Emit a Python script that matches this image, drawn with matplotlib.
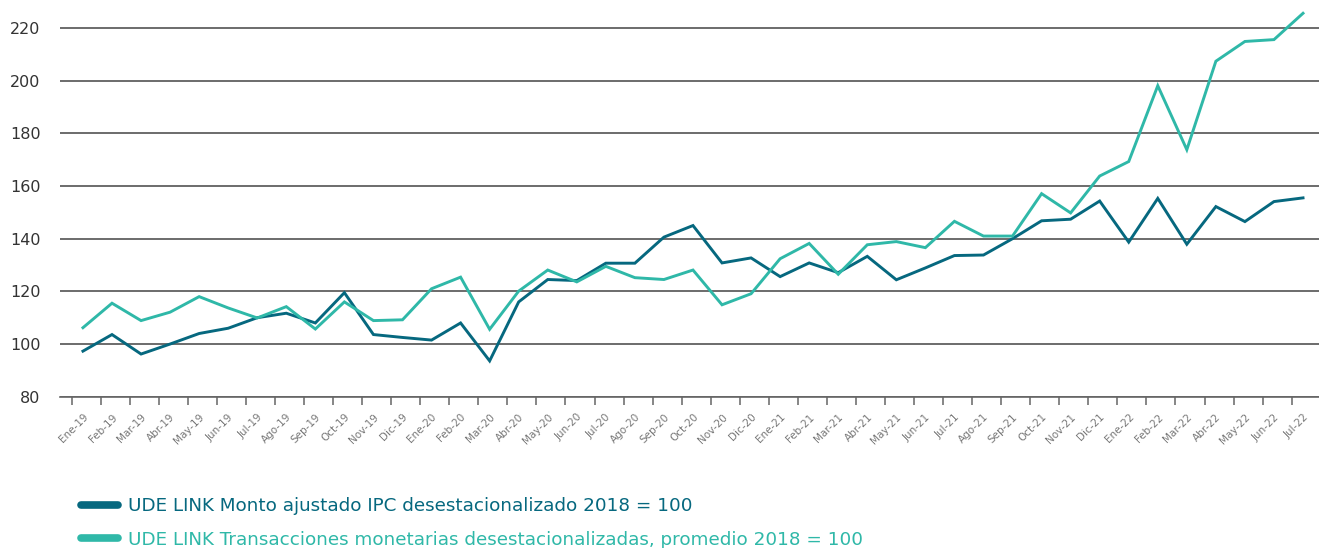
import matplotlib
matplotlib.use("Agg")
import matplotlib.pyplot as plt
from matplotlib.lines import Line2D
import numpy as np

months = ["Ene-19", "Feb-19", "Mar-19", "Abr-19", "May-19", "Jun-19", "Jul-19", "Ago-19", "Sep-19",
          "Oct-19", "Nov-19", "Dic-19", "Ene-20", "Feb-20", "Mar-20", "Abr-20", "May-20", "Jun-20",
          "Jul-20", "Ago-20", "Sep-20", "Oct-20", "Nov-20", "Dic-20", "Ene-21", "Feb-21", "Mar-21",
          "Abr-21", "May-21", "Jun-21", "Jul-21", "Ago-21", "Sep-21", "Oct-21", "Nov-21", "Dic-21",
          "Ene-22", "Feb-22", "Mar-22", "Abr-22", "May-22", "Jun-22", "Jul-22"]

monto = [97.3, 103.6, 96.2, 100.0, 104.0, 106.0, 110.0, 111.7, 108.0,
         119.5, 103.6, 102.5, 101.5, 108.0, 93.6, 116.0, 124.5, 124.1,
         130.7, 130.7, 140.6, 145.0, 130.8, 132.7, 125.6, 130.8, 127.1,
         133.3, 124.4, 128.9, 133.6, 133.8, 140.0, 146.8, 147.4, 154.3,
         138.7, 155.3, 137.9, 152.2, 146.5, 154.1, 155.5]

transacciones = [106.2, 115.5, 108.9, 112.1, 118.0, 113.7, 109.9, 114.2, 105.7,
                 116.0, 108.9, 109.2, 121.0, 125.4, 105.6, 120.1, 128.1, 123.6,
                 129.5, 125.2, 124.5, 128.1, 114.9, 119.1, 132.4, 138.2, 126.5,
                 137.7, 138.9, 136.6, 146.6, 141.0, 141.0, 157.1, 149.8, 163.8,
                 169.3, 198.1, 173.8, 207.4, 214.9, 215.6, 225.6]

yticks = [80, 100, 120, 140, 160, 180, 200, 220]

label_monto = "UDE LINK Monto ajustado IPC desestacionalizado 2018 = 100"
label_trans = "UDE LINK Transacciones monetarias desestacionalizadas, promedio 2018 = 100"

c_dark = "#06687F"
c_teal = "#2FB8A8"

fig = plt.figure(figsize=(13.19, 5.48), dpi=100)
ax = fig.add_axes([60 / 1319, 1 - 396.7 / 548, 1 - 60 / 1319, (396.7 - 9.6) / 548])

x = np.arange(len(months))
ax.plot(x, monto, color=c_dark, lw=2.1, solid_joinstyle="miter", zorder=3)
ax.plot(x, transacciones, color=c_teal, lw=2.1, solid_joinstyle="miter", zorder=3)

ax.set_ylim(80, 227)
ax.set_xlim(-0.79, len(months) - 1 + 0.55)
ax.set_yticks(yticks)
ax.yaxis.grid(True, color="#444444", lw=1.1)
ax.set_axisbelow(True)
for s in ["top", "right", "left"]:
    ax.spines[s].set_visible(False)
ax.spines["bottom"].set_color("#666666")
ax.spines["bottom"].set_linewidth(1.2)

ax.tick_params(axis="y", length=0, pad=14, labelsize=11.5, labelcolor="#333333")
ax.set_xticks(x)
ax.set_xticklabels(months, rotation=45, ha="right", va="top", rotation_mode="anchor",
                   fontsize=7.5, color="#777777")
ax.tick_params(axis="x", which="major", length=0, pad=11)
ax.set_xticks(x - 0.39, minor=True)
ax.tick_params(axis="x", which="minor", length=6, width=1.1, color="#666666", direction="out")

handles = [Line2D([], [], color=c_dark, lw=5.5, solid_capstyle="round"),
           Line2D([], [], color=c_teal, lw=5.5, solid_capstyle="round")]
leg = fig.legend(handles, [label_monto, label_trans], loc="upper left",
                 bbox_to_anchor=(81 / 1319, 1 - 497 / 548), frameon=False,
                 fontsize=13.2, handlelength=2.0, handletextpad=0.54, labelspacing=0.85,
                 labelcolor=[c_dark, c_teal], borderaxespad=0, borderpad=0)

fig.savefig("out.png", dpi=100)
